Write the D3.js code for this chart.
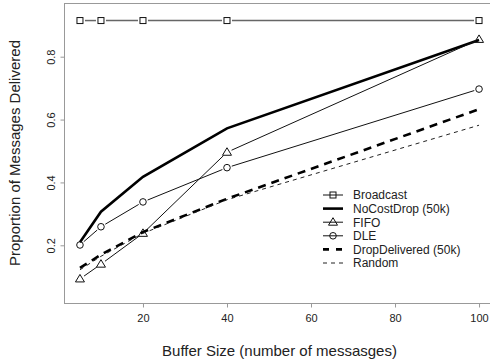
<!DOCTYPE html>
<html>
<head>
<meta charset="UTF-8">
<script src="https://d3js.org/d3.v7.min.js"></script>
<style>
  body { margin: 0; background: #fff; }
  text { font-family: "Liberation Sans", Arial, sans-serif; fill: #222; }
</style>
</head>
<body>
<script>
  // data
  var bufferSizes = [5, 10, 20, 40, 100];
  var broadcast = [0.915, 0.915, 0.915, 0.915, 0.915];
  var noCostDrop = [0.21, 0.307, 0.418, 0.572, 0.853];
  var fifo = [0.093, 0.14, 0.238, 0.496, 0.855];
  var dle = [0.201, 0.259, 0.338, 0.447, 0.697];
  var dropDelivered = [0.128, 0.17, 0.242, 0.348, 0.633];
  var randomDrop = [0.122, 0.165, 0.238, 0.345, 0.582];
  var xTicks = [20, 40, 60, 80, 100];
  var yTicks = [0.2, 0.4, 0.6, 0.8];

  var width = 490, height = 362;
  var svg = d3.select("body").append("svg")
    .attr("width", width).attr("height", height);

  var plotLeft = 64, plotTop = 3, plotRight = 495, plotBottom = 303;
  var x = d3.scaleLinear().domain([1.2, 103.8]).range([plotLeft, plotRight]);
  var y = d3.scaleLinear().domain([0.2, 0.8]).range([245.3, 56.7]);

  // plot box (right side runs off the picture)
  svg.append("rect")
    .attr("x", plotLeft + 0.5).attr("y", plotTop + 0.5)
    .attr("width", plotRight - plotLeft).attr("height", plotBottom - plotTop)
    .attr("fill", "none").attr("stroke", "#999").attr("stroke-width", 1);

  // axes
  var xAxis = svg.append("g").attr("transform", "translate(0," + (plotBottom + 0.5) + ")")
    .call(d3.axisBottom(x).tickValues(xTicks).tickSize(4).tickPadding(7));
  xAxis.select(".domain").remove();
  xAxis.selectAll("line").attr("stroke", "#999");
  xAxis.selectAll("text").attr("font-size", 11).attr("fill", "#222")
    .attr("font-family", "Liberation Sans, Arial, sans-serif");

  var yAxis = svg.append("g").attr("transform", "translate(" + (plotLeft + 0.5) + ",0)")
    .call(d3.axisLeft(y).tickValues(yTicks).tickSize(4).tickFormat(d3.format(".1f")));
  yAxis.select(".domain").remove();
  yAxis.selectAll("line").attr("stroke", "#999");
  yAxis.selectAll("text")
    .attr("font-size", 11).attr("fill", "#222")
    .attr("font-family", "Liberation Sans, Arial, sans-serif")
    .attr("text-anchor", "middle").attr("x", null).attr("dy", null)
    .attr("transform", "translate(-10,0) rotate(-90)")
    .attr("y", 0);

  svg.append("text")
    .attr("x", (plotLeft + plotRight) / 2).attr("y", 356)
    .attr("text-anchor", "middle").attr("font-size", 15)
    .text("Buffer Size (number of messasges)");
  svg.append("text")
    .attr("transform", "translate(20," + ((plotTop + plotBottom) / 2) + ") rotate(-90)")
    .attr("text-anchor", "middle").attr("font-size", 15)
    .text("Proportion of Messages Delivered");

  // symbols
  function drawSymbol(g, kind, cx, cy) {
    if (kind === "square") {
      g.append("rect").attr("x", cx - 3).attr("y", cy - 3)
        .attr("width", 6).attr("height", 6)
        .attr("fill", "none").attr("stroke", "#111").attr("stroke-width", 1);
    } else if (kind === "circle") {
      g.append("circle").attr("cx", cx).attr("cy", cy).attr("r", 3.3)
        .attr("fill", "none").attr("stroke", "#111").attr("stroke-width", 1);
    } else if (kind === "triangle") {
      g.append("path")
        .attr("d", "M" + cx + "," + (cy - 4.5) + "L" + (cx + 4.5) + "," + (cy + 3) +
          "L" + (cx - 4.5) + "," + (cy + 3) + "Z")
        .attr("fill", "none").attr("stroke", "#111").attr("stroke-width", 1);
    }
  }

  var series = [
    { name: "Broadcast", values: broadcast, color: "#666", width: 1.5, dash: null, symbol: "square" },
    { name: "NoCostDrop (50k)", values: noCostDrop, color: "#000", width: 2.6, dash: null, symbol: null },
    { name: "FIFO", values: fifo, color: "#111", width: 1, dash: null, symbol: "triangle" },
    { name: "DLE", values: dle, color: "#111", width: 1, dash: null, symbol: "circle" },
    { name: "DropDelivered (50k)", values: dropDelivered, color: "#000", width: 2.6, dash: "8,6", symbol: null },
    { name: "Random", values: randomDrop, color: "#222", width: 1, dash: "4,4", symbol: null }
  ];

  var gap = 5;
  series.forEach(function(s) {
    var pts = bufferSizes.map(function(b, i) { return [x(b), y(s.values[i])]; });
    var g = svg.append("g");
    if (s.symbol) {
      // type "b": segments stop short of the points
      for (var i = 0; i < pts.length - 1; i++) {
        var a = pts[i], b = pts[i + 1];
        var dx = b[0] - a[0], dy = b[1] - a[1];
        var len = Math.sqrt(dx * dx + dy * dy);
        if (len <= 2 * gap) continue;
        var ux = dx / len, uy = dy / len;
        g.append("line")
          .attr("x1", a[0] + ux * gap).attr("y1", a[1] + uy * gap)
          .attr("x2", b[0] - ux * gap).attr("y2", b[1] - uy * gap)
          .attr("stroke", s.color).attr("stroke-width", s.width);
      }
      pts.forEach(function(p) { drawSymbol(g, s.symbol, p[0], p[1]); });
    } else {
      g.append("path")
        .attr("d", d3.line()(pts))
        .attr("fill", "none").attr("stroke", s.color)
        .attr("stroke-width", s.width)
        .attr("stroke-dasharray", s.dash);
    }
  });

  // legend
  var legend = svg.append("g");
  series.forEach(function(s, i) {
    var ly = 195 + i * 13.6;
    legend.append("line")
      .attr("x1", 323).attr("x2", 343).attr("y1", ly).attr("y2", ly)
      .attr("stroke", s.color === "#666" ? "#111" : s.color)
      .attr("stroke-width", s.width === 1.5 ? 1 : s.width)
      .attr("stroke-dasharray", s.dash ? (s.width > 2 ? "6,7" : "4,4") : null);
    if (s.symbol) drawSymbol(legend, s.symbol, 333, ly);
    legend.append("text")
      .attr("x", 353).attr("y", ly + 4.3)
      .attr("font-size", 12)
      .text(s.name);
  });
</script>
</body>
</html>
